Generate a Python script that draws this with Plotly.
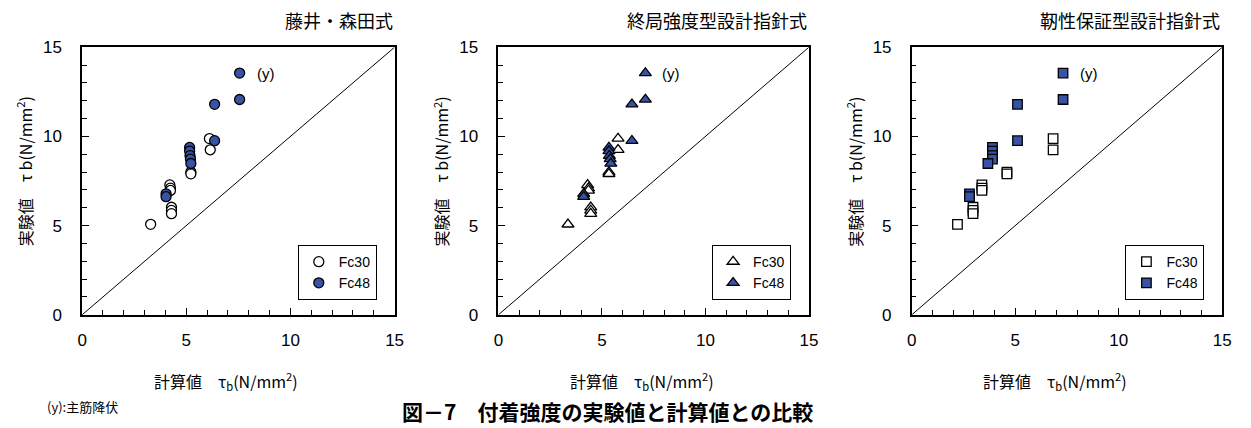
import plotly.graph_objects as go

# Experimental bond strength τb (N/mm²), shared by all three panels
EXP_FC30 = [9.88, 9.25, 8.00, 7.90, 7.28, 7.10, 6.97, 6.03, 5.85, 5.67, 5.07]
EXP_FC48 = [13.55, 12.07, 11.80, 9.76, 9.38, 9.18, 8.92, 8.73, 8.48, 6.78, 6.62]

# Calculated bond strength τb (N/mm²) for each design formula
CALC_FUJII_FC30 = [6.11, 6.15, 5.22, 5.22, 4.21, 4.24, 4.24, 4.29, 4.29, 4.29, 3.29]
CALC_FUJII_FC48 = [7.56, 7.56, 6.36, 6.36, 5.16, 5.16, 5.18, 5.20, 5.22, 4.03, 4.03]
CALC_ULT_FC30 = [5.78, 5.78, 5.34, 5.34, 4.31, 4.35, 4.35, 4.46, 4.46, 4.46, 3.36]
CALC_ULT_FC48 = [7.10, 7.10, 6.45, 6.45, 5.34, 5.34, 5.36, 5.40, 5.43, 4.12, 4.12]
CALC_DUCT_FC30 = [6.83, 6.83, 4.60, 4.60, 3.39, 3.39, 3.39, 2.96, 2.96, 2.96, 2.21]
CALC_DUCT_FC48 = [7.31, 7.31, 5.11, 5.11, 3.90, 3.90, 3.90, 3.90, 3.68, 2.79, 2.79]

PANEL_TITLES = ["藤井・森田式", "終局強度型設計指針式", "靭性保証型設計指針式"]
SERIES_NAMES = ["Fc30", "Fc48"]
AXIS_RANGE = [0, 15]
TICK_VALUES = [0, 5, 10, 15]
YIELD_LABEL = "(y)"
X_TITLE = "計算値　τ<sub>b</sub>(N/mm<sup>2</sup>)"
Y_TITLE = "実験値　τ b(N/mm<sup>2</sup>)"
NOTE_TEXT = "(y):主筋降伏"
CAPTION_TEXT = "図－7　付着強度の実験値と計算値との比較"

W, H = 1251, 428
BLUE = "#3953A4"
FONT = "Liberation Sans, Arial, Noto Sans CJK JP"
CJK = "Noto Sans CJK JP, Liberation Sans"

# pixel frames of the three plot areas (left, right)
FRAMES = [(78, 394), (499, 813), (917, 1231)]
TOP, BOTTOM = 40, 320
SYMBOLS = ["circle", "triangle-up", "square"]
SIZES = [10, 10.5, 9.5]

panels = [
    (CALC_FUJII_FC30, CALC_FUJII_FC48),
    (CALC_ULT_FC30, CALC_ULT_FC48),
    (CALC_DUCT_FC30, CALC_DUCT_FC48),
]


def px(x, y):
    """Convert a pixel position into paper coordinates."""
    return x / W, 1 - y / H


fig = go.Figure()
layout = dict(
    width=W, height=H,
    margin=dict(l=0, r=0, t=0, b=0),
    paper_bgcolor="white", plot_bgcolor="white",
    font=dict(family=FONT, size=16, color="black"),
    annotations=[],
)

for i, ((calc30, calc48), title) in enumerate(zip(panels, PANEL_TITLES)):
    n = "" if i == 0 else str(i + 1)
    xa, ya = "x" + n, "y" + n
    leg = "legend" + n
    left, right = FRAMES[i]

    # 1:1 reference line
    fig.add_trace(go.Scatter(
        x=AXIS_RANGE, y=AXIS_RANGE, mode="lines",
        line=dict(color="black", width=1),
        xaxis=xa, yaxis=ya, showlegend=False, hoverinfo="skip",
    ))
    fig.add_trace(go.Scatter(
        x=calc30, y=EXP_FC30, mode="markers", name=SERIES_NAMES[0],
        marker=dict(symbol=SYMBOLS[i], size=SIZES[i], color="white",
                    line=dict(color="black", width=1.3)),
        xaxis=xa, yaxis=ya, legend=leg,
    ))
    fig.add_trace(go.Scatter(
        x=calc48, y=EXP_FC48, mode="markers", name=SERIES_NAMES[1],
        marker=dict(symbol=SYMBOLS[i], size=SIZES[i], color=BLUE,
                    line=dict(color="black", width=1.3)),
        xaxis=xa, yaxis=ya, legend=leg,
    ))

    common = dict(
        range=AXIS_RANGE, tickvals=TICK_VALUES,
        showline=True, linecolor="black", linewidth=1.5, mirror=True,
        ticks="inside", ticklen=7, tickwidth=1, tickcolor="black",
        minor=dict(dtick=1, ticks="inside", ticklen=5, tickwidth=1, tickcolor="black"),
        showgrid=False, zeroline=False, fixedrange=True,
        tickfont=dict(family=FONT, size=17),
    )
    layout["xaxis" + n] = dict(
        common, domain=[left / W, right / W], anchor=ya,
        ticklabelstandoff=9,
    )
    layout["yaxis" + n] = dict(
        common, domain=[1 - BOTTOM / H, 1 - TOP / H], anchor=xa,
        ticklabelstandoff=15,
    )
    layout[leg] = dict(
        x=(right - 18) / W, xanchor="right",
        y=1 - 247 / H, yanchor="top",
        bgcolor="white", bordercolor="black", borderwidth=1,
        font=dict(family=FONT, size=14),
        itemwidth=30, tracegroupgap=0,
    )

    # axis titles
    cx = (left + right) / 2 - 12
    ax_, ay_ = px(cx, 389)
    layout["annotations"].append(dict(
        text=X_TITLE, xref="paper", yref="paper", x=ax_, y=ay_,
        xanchor="center", yanchor="middle", showarrow=False,
        font=dict(family=CJK, size=16),
    ))
    ax_, ay_ = px(left - 58, 170)
    layout["annotations"].append(dict(
        text=Y_TITLE, xref="paper", yref="paper", x=ax_, y=ay_,
        xanchor="center", yanchor="middle", textangle=-90, showarrow=False,
        font=dict(family=CJK, size=16),
    ))

    # panel title, right aligned to the frame
    layout["annotations"].append(dict(
        text=title, xref="paper", yref="paper",
        x=right / W, y=1 - 12 / H, xanchor="right", yanchor="middle",
        showarrow=False, font=dict(family=CJK, size=18),
    ))
    # yield marker label beside the highest Fc48 point
    top_idx = EXP_FC48.index(max(EXP_FC48))
    layout["annotations"].append(dict(
        text=YIELD_LABEL, xref=xa, yref=ya,
        x=calc48[top_idx], y=EXP_FC48[top_idx],
        xanchor="left", yanchor="middle", xshift=15,
        showarrow=False, font=dict(family=FONT, size=15),
    ))

nx, ny = px(40, 416)
layout["annotations"].append(dict(
    text=NOTE_TEXT, xref="paper", yref="paper",
    x=nx, y=ny, xanchor="left", yanchor="middle",
    showarrow=False, font=dict(family=CJK, size=13),
))
cx, cy = px(609, 421)
layout["annotations"].append(dict(
    text="<b>" + CAPTION_TEXT + "</b>", xref="paper", yref="paper",
    x=cx, y=cy, xanchor="center", yanchor="middle",
    showarrow=False, font=dict(family=CJK, size=21),
))

fig.update_layout(**layout)
fig.write_html("out.html")
